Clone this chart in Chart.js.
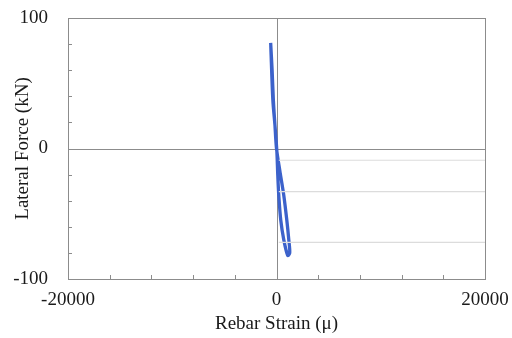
<!DOCTYPE html>
<html>
<head>
<meta charset="utf-8">
<script src="https://cdn.jsdelivr.net/npm/chart.js@4/dist/chart.umd.min.js"></script>
<style>
  html, body { margin: 0; padding: 0; background: #fff; }
  #wrap { width: 512px; height: 338px; }
</style>
</head>
<body>
<div id="wrap"><canvas id="grafico"></canvas></div>
<script>
// Datos
const deformacion = [-560, -420, -300, -150, 0, 320, 700, 990, 1180, 1270, 1080, 700, 410, 220, 125, 30, -150, -350, -550];
const fuerza      = [81, 60, 37, 18, 0, -17, -36, -55, -70, -80, -82, -70, -55, -36, -21, -1.5, 18, 37, 79];

// lineas grises horizontales de referencia
const guiasY = [-9, -33, -72];
const guiaXInicio = 220;
const guiaXFin = 20000;

const ticksX = [-20000, 0, 20000];
const ticksY = [-100, 0, 100];

const curva = deformacion.map((x, i) => ({ x: x, y: fuerza[i] }));

const datasets = guiasY.map(v => ({
    data: [{ x: guiaXInicio, y: v }, { x: guiaXFin, y: v }],
    borderColor: '#dcdcdc',
    borderWidth: 1.2,
    pointRadius: 0,
    showLine: true
}));

datasets.push({
    data: curva,
    borderColor: '#3c62cb',
    borderWidth: 3.3,
    pointRadius: 0,
    showLine: true,
    tension: 0.3
});

// Marcas hacia adentro, caja y ejes en cero
const marcoPlugin = {
    id: 'marco',
    beforeDatasetsDraw(chart) {
        const { ctx, chartArea: a, scales } = chart;
        ctx.save();
        ctx.strokeStyle = '#8c8c8c';
        ctx.lineWidth = 1;
        const x0 = Math.round(scales.x.getPixelForValue(0)) + 0.5;
        const y0 = Math.round(scales.y.getPixelForValue(0)) + 0.5;
        ctx.beginPath();
        ctx.moveTo(x0, a.top); ctx.lineTo(x0, a.bottom);
        ctx.moveTo(a.left, y0); ctx.lineTo(a.right, y0);
        ctx.stroke();
        ctx.beginPath();
        for (let v = -16000; v < 20000; v += 4000) {
            const px = Math.round(scales.x.getPixelForValue(v)) + 0.5;
            ctx.moveTo(px, a.bottom); ctx.lineTo(px, a.bottom - 4);
        }
        for (let v = -80; v < 100; v += 20) {
            const py = Math.round(scales.y.getPixelForValue(v)) + 0.5;
            ctx.moveTo(a.left, py); ctx.lineTo(a.left + 4, py);
        }
        ctx.stroke();
        ctx.strokeRect(Math.round(a.left) + 0.5, Math.round(a.top) + 0.5, Math.round(a.right - a.left), Math.round(a.bottom - a.top));
        ctx.restore();
    }
};

const fuente = { family: 'Liberation Serif', size: 19 };

const config = {
    type: 'scatter',
    data: { datasets: datasets },
    options: {
        responsive: true,
        maintainAspectRatio: false,
        animation: false,
        layout: { padding: { top: 18, right: 27, left: 0, bottom: 0 } },
        plugins: {
            legend: { display: false },
            tooltip: { enabled: false }
        },
        scales: {
            x: {
                type: 'linear',
                min: -20000,
                max: 20000,
                afterBuildTicks: s => { s.ticks = ticksX.map(v => ({ value: v })); },
                afterFit: s => { s.height = 59; s.paddingLeft = 0; s.paddingRight = 0; },
                grid: { display: false, drawTicks: false },
                border: { display: false },
                ticks: { font: fuente, color: '#1a1a1a', padding: 10, maxRotation: 0, autoSkip: false, callback: v => String(v) },
                title: { display: true, text: 'Rebar Strain (μ)', font: fuente, color: '#1a1a1a', padding: { top: 0, bottom: 3 } }
            },
            y: {
                type: 'linear',
                min: -100,
                max: 100,
                afterBuildTicks: s => { s.ticks = ticksY.map(v => ({ value: v })); },
                afterFit: s => { s.width = 68; s.paddingTop = 0; s.paddingBottom = 0; },
                grid: { display: false, drawTicks: false },
                border: { display: false },
                ticks: { font: fuente, color: '#1a1a1a', padding: 20, autoSkip: false, callback: v => String(v) },
                title: { display: true, text: 'Lateral Force (kN)', font: fuente, color: '#1a1a1a', padding: { top: 12, bottom: 0 } }
            }
        }
    },
    plugins: [marcoPlugin]
};

// Crear el grafico
const chartInstance = new Chart(document.getElementById('grafico'), config);
</script>
</body>
</html>
